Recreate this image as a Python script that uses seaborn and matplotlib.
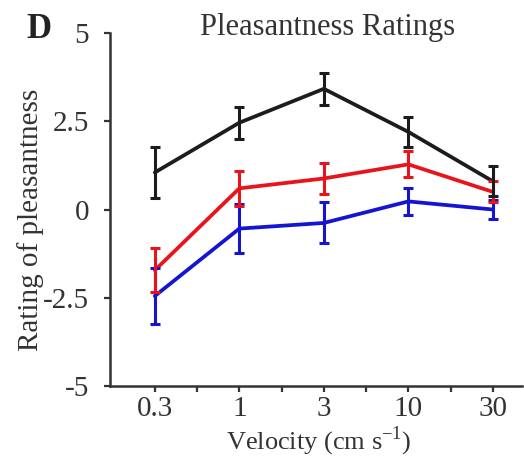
import matplotlib
matplotlib.use("Agg")
import matplotlib.pyplot as plt
import seaborn as sns
import pandas as pd

velocities = ["0.3", "1", "3", "10", "30"]

black_mean = [1.05, 2.46, 3.42, 2.2, 0.8]
black_err = [0.72, 0.45, 0.45, 0.43, 0.43]
red_mean = [-1.72, 0.6, 0.88, 1.28, 0.5]
red_err = [0.62, 0.5, 0.43, 0.37, 0.3]
blue_mean = [-2.45, -0.54, -0.38, 0.23, 0.0]
blue_err = [0.8, 0.7, 0.58, 0.38, 0.27]

series = {
    "blue": (blue_mean, blue_err, "#1414d2"),
    "red": (red_mean, red_err, "#e8141b"),
    "black": (black_mean, black_err, "#1c1c1c"),
}

rows = []
for name, (means, errs, _) in series.items():
    for i, (m, e) in enumerate(zip(means, errs)):
        rows.append({"pos": i, "velocity": velocities[i], "mean": m, "err": e, "group": name})
df = pd.DataFrame(rows)

sns.set_style("ticks")
plt.rcParams["font.family"] = ["Liberation Serif", "DejaVu Serif"]
plt.rcParams["mathtext.fontset"] = "custom"
plt.rcParams["mathtext.rm"] = "Liberation Serif"

fig = plt.figure(figsize=(5.24, 4.59), dpi=100)
ax = fig.add_axes([0.21, 0.159, 0.787, 0.769])

palette = {k: v[2] for k, v in series.items()}
sns.lineplot(data=df, x="pos", y="mean", hue="group", palette=palette,
             hue_order=["blue", "red", "black"], lw=2.7, legend=False, ax=ax)
for name, (means, errs, color) in series.items():
    sub = df[df.group == name]
    ax.errorbar(sub["pos"], sub["mean"], yerr=sub["err"], fmt="none",
                ecolor=color, elinewidth=2.2, capsize=3.5, capthick=2.2)

ax.set_xlim(-0.53, 4.35)
ax.set_ylim(-5, 5)
ax.set_xticks(range(len(velocities)))
ax.set_xticklabels(velocities)
ax.set_xticks([0.5, 1.5, 2.5, 3.5], minor=True)
ax.set_yticks([-5, -2.5, 0, 2.5, 5])
ax.set_yticklabels(["-5", "-2.5", "0", "2.5", "5"])
ax.tick_params(axis="both", labelsize=21, colors="#333333", labelcolor="#333333",
               length=4, width=1.6, direction="out")
ax.tick_params(axis="y", pad=11)
ax.tick_params(axis="x", pad=3)
ax.tick_params(axis="x", which="minor", length=4, width=1.6, colors="#333333")
for s in ["left", "bottom"]:
    ax.spines[s].set_linewidth(1.8)
    ax.spines[s].set_color("#333333")
sns.despine(ax=ax)

ax.set_xlabel(r"Velocity (cm s$^{\mathregular{-1}}$)", fontsize=19, color="#333333")
ax.xaxis.set_label_coords(0.505, -0.11)
ax.set_ylabel("Rating of pleasantness", fontsize=21, color="#333333")
ax.yaxis.set_label_coords(-0.16, 0.47)
fig.text(0.626, 0.94, "Pleasantness Ratings", fontsize=22, color="#333333", ha="center", va="center")
fig.text(0.075, 0.935, "D", fontsize=25, fontweight="bold", color="#222222", ha="center", va="center")

fig.savefig("out.png", dpi=100)
